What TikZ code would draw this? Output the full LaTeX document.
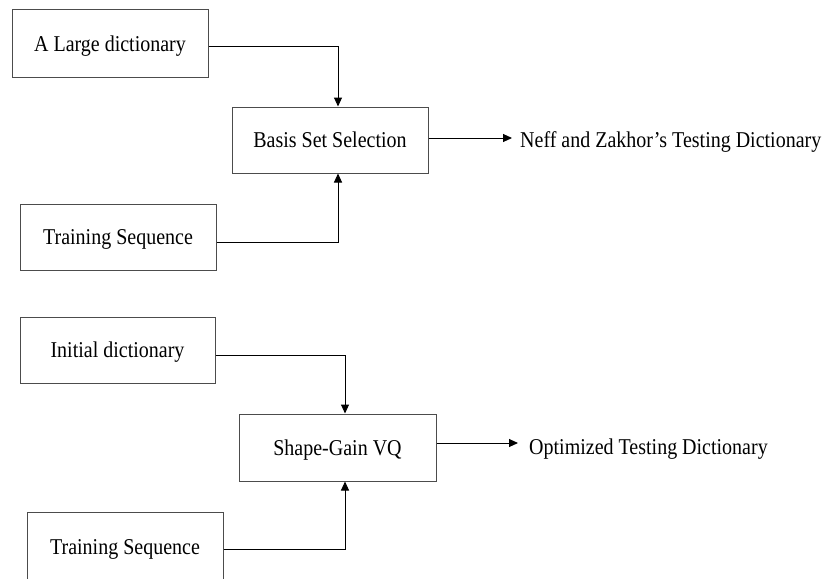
\documentclass[tikz,border=0pt]{standalone}
\usepackage{fontspec}
\setmainfont{Liberation Serif}
\usetikzlibrary{arrows.meta}
\newcommand{\vtxt}[1]{\scalebox{1}[1.13]{#1}}
\begin{document}
\begin{tikzpicture}[x=1pt,y=-1pt,
  box/.style={draw=black!70,line width=1pt,rectangle,inner sep=0pt,text depth=0pt,font=\fontsize{20}{24}\selectfont},
  lbl/.style={inner sep=0pt,anchor=base west,font=\fontsize{20}{24}\selectfont},
  arr/.style={draw=black,line width=1pt,-{Triangle[length=9pt,width=8pt]}}]
\useasboundingbox (0,0) rectangle (832,578);
\clip (0,0) rectangle (832,578);
\fill[white] (0,0) rectangle (832,578);
% top part
\node[box,minimum width=196pt,minimum height=67pt] (big) at (110,43.5) {\vtxt{A Large dictionary}};
\node[box,minimum width=196pt,minimum height=66pt] (bss) at (330,140) {\vtxt{Basis Set Selection}};
\node[box,minimum width=196pt,minimum height=66pt] (tr1) at (118,237) {\vtxt{Training Sequence}};
\node[lbl] (out1) at (520,147) {\vtxt{Neff and Zakhor’s Testing Dictionary}};
\coordinate (o1) at (512,138);
\draw[arr] ([yshift=-3.5pt]big.east) -| ([xshift=8pt]bss.north);
\draw[arr] ([yshift=-5pt]tr1.east) -| ([xshift=8pt]bss.south);
\draw[arr] ([yshift=2pt]bss.east) -- (o1);
% bottom part
\node[box,minimum width=195pt,minimum height=66pt] (init) at (117.5,350) {\vtxt{Initial dictionary}};
\node[box,minimum width=197pt,minimum height=67pt] (sg) at (337.5,447.5) {\vtxt{Shape-Gain VQ}};
\node[box,minimum width=196pt,minimum height=70pt] (tr2) at (125,547) {\vtxt{Training Sequence}};
\node[lbl] (out2) at (529,454) {\vtxt{Optimized Testing Dictionary}};
\coordinate (o2) at (518,443);
\draw[arr] ([yshift=-5pt]init.east) -| ([xshift=7.5pt]sg.north);
\draw[arr] ([yshift=-2pt]tr2.east) -| ([xshift=7.5pt]sg.south);
\draw[arr] ([yshift=4.5pt]sg.east) -- (o2);
\end{tikzpicture}
\end{document}
